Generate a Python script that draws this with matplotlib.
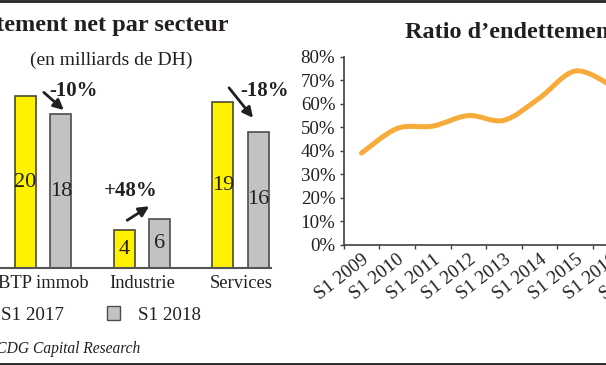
import matplotlib
matplotlib.use("Agg")  # no display, write straight to file
import matplotlib.pyplot as plt
import numpy as np
from matplotlib.lines import Line2D
from matplotlib.patches import Patch, PathPatch
from matplotlib.path import Path
from matplotlib.transforms import offset_copy

plt.rcParams["font.family"] = ["Liberation Serif", "DejaVu Serif"]

# Left panel: endettement net par secteur (milliards de DH)
sectors = ["BTP immob", "Industrie", "Services"]
s1_2017 = [20.0, 4.4, 19.3]
s1_2018 = [17.9, 5.7, 15.9]
changes = ["-10%", "+48%", "-18%"]
series_names = ["S1 2017", "S1 2018"]

# Right panel: ratio d'endettement (%), cropped after S1 2016
periods = ["S1 2009", "S1 2010", "S1 2011", "S1 2012", "S1 2013",
           "S1 2014", "S1 2015", "S1 2016", "S1 2017", "S1 2018"]
ratio = [39, 49.5, 50.5, 55, 53, 62.5, 74, 68]

W, H = 606, 365
TEXT = "#231f20"
YELLOW, YELLOW_EDGE = "#fff200", "#4a4a30"
GREY, GREY_EDGE = "#c2c2c4", "#4d4d4f"
ORANGE = "#f7ab3a"


def fx(x):
    return x / W


def fy(y):  # pixel from top -> figure fraction
    return 1 - y / H


def smooth_path(xs, ys):
    """Catmull-Rom style bezier through the points (Excel 'smoothed line')."""
    pts = np.column_stack([xs, ys]).astype(float)
    ext = np.vstack([pts[0], pts, pts[-1]])
    verts, codes = [pts[0]], [Path.MOVETO]
    for i in range(len(pts) - 1):
        p0, p1, p2, p3 = ext[i], ext[i + 1], ext[i + 2], ext[i + 3]
        verts += [p1 + (p2 - p0) / 6, p2 - (p3 - p1) / 6, p2]
        codes += [Path.CURVE4] * 3
    return Path(verts, codes)


fig = plt.figure(figsize=(W / 100, H / 100), dpi=100)

# ---- bar chart ----
ax1 = fig.add_axes([0, fy(268.3), fx(270.7), (268.3 - 40) / H])
x = np.arange(len(sectors))
off, bw = 0.18, 0.213
b1 = ax1.bar(x - off, s1_2017, bw, color=YELLOW, edgecolor=YELLOW_EDGE, lw=1.2)
b2 = ax1.bar(x + off, s1_2018, bw, color=GREY, edgecolor=GREY_EDGE, lw=1.2)
for bars, vals in ((b1, s1_2017), (b2, s1_2018)):
    ax1.bar_label(bars, labels=[f"{v:.0f}" for v in vals], label_type="center",
                  fontsize=16, color=TEXT)
ax1.set_xlim(-0.435, 2.303)
ax1.set_ylim(0, 228.3 / 8.6)
ax1.set_xticks(x, sectors, fontsize=13.3, color=TEXT)
ax1.tick_params(axis="x", length=0, pad=4.5)
ax1.set_yticks([])
for s in ("top", "left", "right"):
    ax1.spines[s].set_visible(False)
ax1.spines["bottom"].set_color("#555555")
ax1.spines["bottom"].set_linewidth(1.5)

# change arrows + labels, offsets in pixels from the top of the 2018 bar
arrow_tails = [(-17, 22), (-32.5, -1), (-29.5, 43.7)]
arrow_heads = [(3, 4.3), (-10.5, 13), (-5.5, 13.7)]
label_offsets = [(13, 23), (-28.5, 28), (6.5, 40.5)]
for i, txt in enumerate(changes):
    anchor = (x[i] + off, s1_2018[i])
    head = offset_copy(ax1.transData, fig=fig, x=arrow_heads[i][0], y=arrow_heads[i][1], units="dots")
    tail = offset_copy(ax1.transData, fig=fig, x=arrow_tails[i][0], y=arrow_tails[i][1], units="dots")
    ax1.annotate("", xy=anchor, xycoords=head, xytext=anchor, textcoords=tail,
                 arrowprops=dict(arrowstyle="-|>", color=TEXT, lw=2, mutation_scale=15,
                                 shrinkA=0, shrinkB=0),
                 annotation_clip=False)
    lab = offset_copy(ax1.transData, fig=fig, x=label_offsets[i][0], y=label_offsets[i][1], units="dots")
    ax1.text(*anchor, txt, transform=lab, ha="center", va="center",
             fontsize=15, fontweight="bold", color=TEXT, clip_on=False)

fig.text(fx(229), fy(25), "Endettement net par secteur", ha="right", va="center",
         fontsize=17.5, fontweight="bold", color=TEXT)
fig.text(fx(111.5), fy(60), "(en milliards de DH)", ha="center", va="center",
         fontsize=14, color=TEXT)

fig.legend(handles=[Patch(facecolor=YELLOW, edgecolor=YELLOW_EDGE),
                    Patch(facecolor=GREY, edgecolor=GREY_EDGE)],
           labels=series_names, ncol=2, frameon=False, loc="center left",
           bbox_to_anchor=(fx(-31), fy(315)), fontsize=13.6, labelcolor=TEXT,
           handlelength=0.7, handleheight=0.7, handletextpad=0.97,
           columnspacing=2.3, borderpad=0, borderaxespad=0)

fig.text(fx(140), fy(349), "Source : CDG Capital Research", ha="right", va="center",
         fontsize=11.2, style="italic", color=TEXT)

# ---- line chart ----
ax2 = fig.add_axes([fx(343.7), fy(244.5), 356 / W, (244.5 - 57) / H])
xi = np.arange(len(ratio))
ax2.add_patch(PathPatch(smooth_path(xi, ratio), fill=False, edgecolor=ORANGE,
                        lw=3.6, capstyle="round", joinstyle="round"))
ax2.set_xlim(-0.5, len(periods) - 0.5)
ax2.set_ylim(0, 80)
ax2.set_yticks(range(0, 81, 10), [f"{v}%" for v in range(0, 81, 10)])
ax2.set_xticks(np.arange(len(periods)), periods)
ax2.set_xticks(np.arange(len(periods) + 1) - 0.5, minor=True)
ax2.tick_params(axis="x", which="major", length=0, pad=5)
ax2.tick_params(axis="x", which="minor", length=3, width=1, color="#404040")
ax2.tick_params(axis="y", length=3, width=1, color="#404040", pad=3)
ax2.tick_params(labelsize=13.6, labelcolor=TEXT)
for lbl in ax2.get_xticklabels():
    lbl.set_rotation(38)
    lbl.set_ha("right")
    lbl.set_va("top")
    lbl.set_rotation_mode("anchor")
for s in ("top", "right"):
    ax2.spines[s].set_visible(False)
for s in ("left", "bottom"):
    ax2.spines[s].set_color("#404040")
    ax2.spines[s].set_linewidth(1.2)

fig.text(fx(404.7), fy(33), "Ratio d\u2019endettement", ha="left", va="center",
         fontsize=17.5, fontweight="bold", color=TEXT)

# page rules top and bottom
fig.add_artist(Line2D([0, 1], [fy(1)] * 2, color="#222222", lw=2, transform=fig.transFigure))
fig.add_artist(Line2D([0, 1], [fy(363.5)] * 2, color="#222222", lw=2, transform=fig.transFigure))

fig.savefig("out.png", dpi=100)
